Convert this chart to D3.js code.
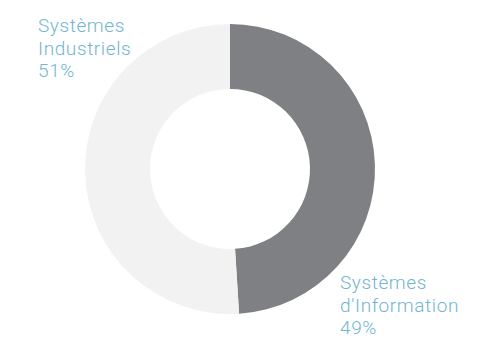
<!DOCTYPE html>
<html>
<head>
<meta charset="utf-8">
<script src="https://cdn.jsdelivr.net/npm/d3@7"></script>
<style>
  html, body { margin: 0; padding: 0; background: #ffffff; }
  svg { display: block; }
  .lbl { font-family: Roboto, "Noto Sans", sans-serif; font-weight: 300; font-size: 19px; letter-spacing: 0.6px; fill: #72b5d3; }
</style>
</head>
<body>
<svg id="chart" width="490" height="338"></svg>
<script>
// Revenue split by business line (percent)
const categories = ["Systèmes d'Information", "Systèmes Industriels"];
const labelLines = [["Systèmes", "d'Information"], ["Systèmes", "Industriels"]];
const values = [49, 51];
const colors = ["#7e8083", "#f2f2f2"];

const W = 490, H = 338;
const cx = 230, cy = 169;
const outerR = 145, innerR = 80;

const svg = d3.select("#chart");
const g = svg.append("g").attr("transform", `translate(${cx},${cy})`);

const pie = d3.pie().sort(null).value(d => d);
const arcs = pie(values);
const arc = d3.arc().innerRadius(innerR).outerRadius(outerR);

g.selectAll("path.slice")
  .data(arcs)
  .join("path")
  .attr("class", "slice")
  .attr("d", arc)
  .attr("fill", (d, i) => colors[i]);

// Labels: Information at lower right, Industriels at upper left
const labelPos = [
  { x: cx + 110, y: cy + 120 },
  { x: 38, y: 32 }
];
const lineH = 22.5;

arcs.forEach((a, i) => {
  const lines = labelLines[i].concat([values[i] + "%"]);
  const t = svg.append("text")
    .attr("class", "lbl")
    .attr("x", labelPos[i].x)
    .attr("y", labelPos[i].y);
  lines.forEach((s, k) => {
    t.append("tspan")
      .attr("x", labelPos[i].x)
      .attr("dy", k === 0 ? 0 : lineH)
      .text(s);
  });
});
</script>
</body>
</html>
